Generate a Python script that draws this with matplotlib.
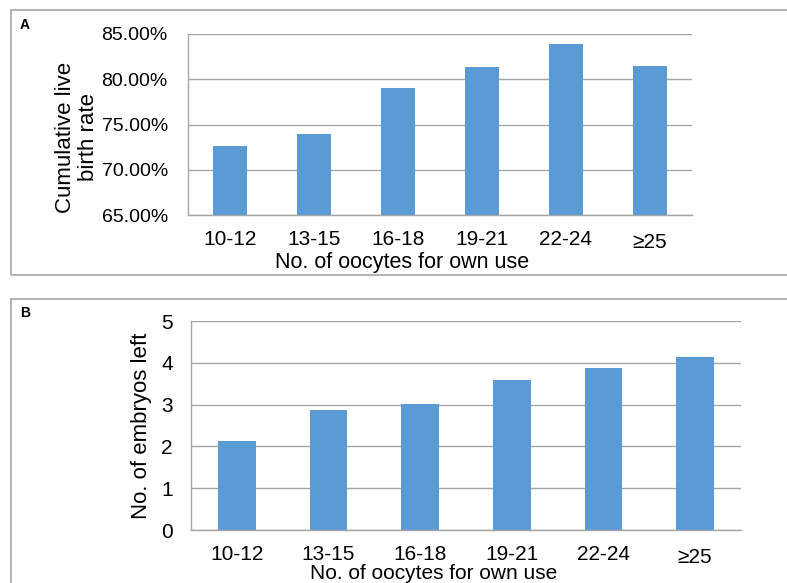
import matplotlib
matplotlib.use("Agg")
import matplotlib.pyplot as plt
from matplotlib.patches import Rectangle
from matplotlib.ticker import FuncFormatter
from matplotlib.transforms import ScaledTranslation

plt.rcParams['font.family'] = ['Liberation Sans', 'DejaVu Sans']

categories = ["10-12", "13-15", "16-18", "19-21", "22-24", "\u226525"]
live_birth_rate = [72.6, 74.0, 79.0, 81.4, 83.9, 81.5]
embryos_left = [2.13, 2.88, 3.02, 3.59, 3.88, 4.13]
a_ticks = [65, 70, 75, 80, 85]
b_ticks = [0, 1, 2, 3, 4, 5]

BAR = "#5B9BD5"
GRID = "#A6A6A6"
FRAME = "#A6A6A6"

W, H = 787, 583
fig = plt.figure(figsize=(W / 100, H / 100), dpi=100)

def fx(px):
    return px / W

def fy(py):
    return 1 - py / H

# frames
fig.patches.append(Rectangle((fx(11), fy(275)), fx(800) - fx(11), fy(10) - fy(275),
                             transform=fig.transFigure, fill=False, edgecolor=FRAME, lw=1.2))
fig.patches.append(Rectangle((fx(11), fy(600)), fx(800) - fx(11), fy(299) - fy(600),
                             transform=fig.transFigure, fill=False, edgecolor=FRAME, lw=1.2))

def style(ax, ticks):
    for s in ("top", "right"):
        ax.spines[s].set_visible(False)
    for s in ("left", "bottom"):
        ax.spines[s].set_color(GRID)
        ax.spines[s].set_linewidth(1.0)
    ax.set_yticks(ticks)
    ax.yaxis.grid(True, color=GRID, lw=1.0)
    ax.set_axisbelow(True)
    ax.tick_params(length=0)

def lower_last(ax, px):
    lab = ax.get_xticklabels()[-1]
    lab.set_transform(lab.get_transform() + ScaledTranslation(0, -px / 100, fig.dpi_scale_trans))

# Panel A
axA = fig.add_axes([fx(188), fy(215), fx(692) - fx(188), fy(34) - fy(215)])
xs = list(range(len(categories)))
axA.bar(xs, live_birth_rate, width=0.40, color=BAR)
axA.set_ylim(65, 85)
axA.set_xlim(-0.5, len(categories) - 0.5)
style(axA, a_ticks)
axA.tick_params(axis='y', labelsize=14, pad=14.5)
axA.tick_params(axis='x', labelsize=15, pad=10.5)
axA.set_xticks(xs)
axA.set_xticklabels(categories)
lower_last(axA, 3)
axA.yaxis.set_major_formatter(FuncFormatter(lambda v, p: f"{v:.2f}%"))
fig.text(fx(402), fy(252), "No. of oocytes for own use", fontsize=15.5,
         ha="center", va="top")
fig.text(fx(77), fy(137), "Cumulative live\nbirth rate", fontsize=16, rotation=90,
         ha="center", va="center", linespacing=1.15)
fig.text(fx(20), fy(25), "A", fontsize=10, fontweight="bold", ha="left", va="center")

# Panel B
axB = fig.add_axes([fx(191), fy(530), fx(741) - fx(191), fy(321) - fy(530)])
axB.bar(xs, embryos_left, width=0.41, color=BAR)
axB.set_ylim(0, 5)
axB.set_xlim(-0.5, len(categories) - 0.5)
style(axB, b_ticks)
axB.tick_params(axis='y', labelsize=15, pad=13)
axB.tick_params(axis='x', labelsize=15, pad=10.5)
axB.set_xticks(xs)
axB.set_xticklabels(categories)
lower_last(axB, 3)
fig.text(fx(434), fy(564), "No. of oocytes for own use", fontsize=15,
         ha="center", va="top")
fig.text(fx(142), fy(426), "No. of embryos left", fontsize=16, rotation=90,
         ha="center", va="center")
fig.text(fx(20), fy(313), "B", fontsize=10, fontweight="bold", ha="left", va="center")

fig.savefig("out.png", dpi=100)
